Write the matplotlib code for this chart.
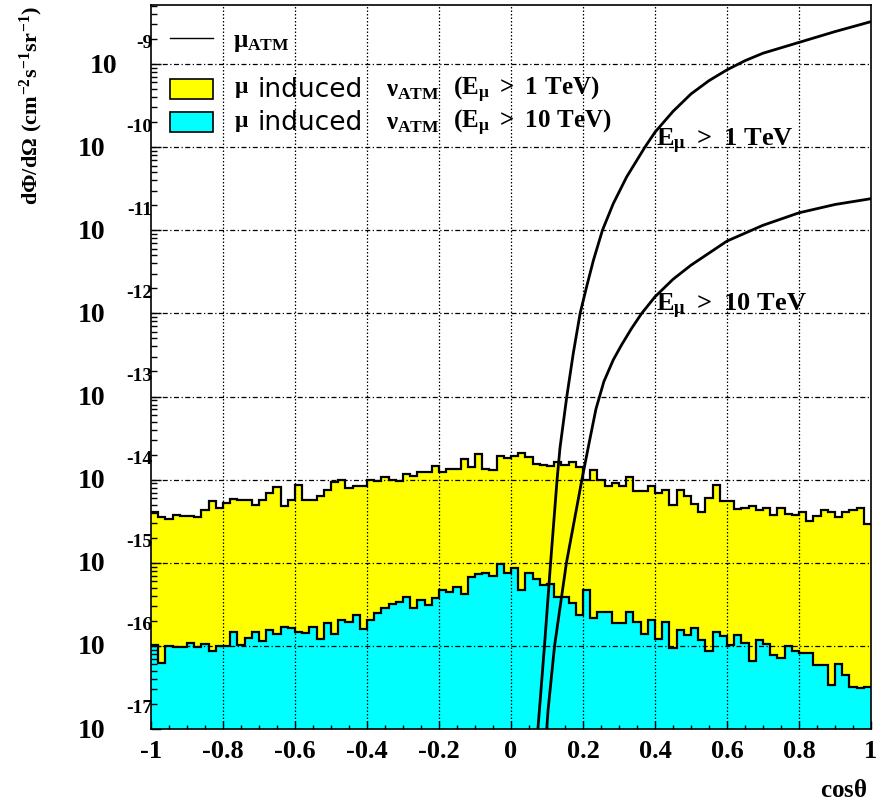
#!/usr/bin/env python3
"""Atmospheric muon flux vs neutrino-induced muons, per cos(theta)."""

import numpy as np
import matplotlib
matplotlib.use("Agg")
import matplotlib.pyplot as plt
from matplotlib.patches import Rectangle

plt.rcParams['font.family'] = ['Liberation Serif', 'DejaVu Serif']
plt.rcParams['font.weight'] = 'bold'
plt.rcParams['mathtext.fontset'] = 'custom'
plt.rcParams['mathtext.rm'] = 'Liberation Serif:bold'
plt.rcParams['mathtext.it'] = 'Liberation Serif:bold'
plt.rcParams['mathtext.bf'] = 'Liberation Serif:bold'

# 100 bins in cos(theta) from -1 to 1, values are log10 of the flux
n_bins = 100
yellow_log = [
    -14.39, -14.45, -14.47, -14.42, -14.44, -14.44, -14.45, -14.37, -14.26, -14.34,
    -14.28, -14.23, -14.25, -14.25, -14.31, -14.24, -14.16, -14.09, -14.32, -14.24,
    -14.07, -14.24, -14.24, -14.20, -14.12, -14.03, -14.01, -14.10, -14.08, -14.08,
    -14.01, -14.02, -13.97, -14.00, -14.02, -13.93, -13.96, -13.91, -13.91, -13.83,
    -13.91, -13.87, -13.87, -13.75, -13.85, -13.69, -13.87, -13.89, -13.71, -13.74,
    -13.71, -13.68, -13.73, -13.81, -13.82, -13.84, -13.79, -13.82, -13.79, -13.85,
    -14.00, -13.89, -14.01, -14.08, -14.04, -14.08, -13.97, -14.14, -14.14, -14.08,
    -14.16, -14.13, -14.30, -14.13, -14.20, -14.29, -14.39, -14.22, -14.06, -14.26,
    -14.26, -14.35, -14.34, -14.32, -14.37, -14.34, -14.43, -14.34, -14.41, -14.43,
    -14.39, -14.50, -14.44, -14.37, -14.39, -14.45, -14.39, -14.37, -14.34, -14.53,
]
cyan_log = [
    -15.99, -16.20, -16.00, -16.01, -16.01, -15.96, -16.01, -15.98, -16.06, -16.00,
    -16.00, -15.83, -15.99, -15.91, -15.83, -15.94, -15.81, -15.86, -15.77, -15.79,
    -15.83, -15.84, -15.77, -15.92, -15.72, -15.86, -15.69, -15.71, -15.63, -15.80,
    -15.69, -15.61, -15.55, -15.50, -15.47, -15.41, -15.55, -15.45, -15.51, -15.43,
    -15.33, -15.35, -15.29, -15.37, -15.17, -15.13, -15.12, -15.16, -15.01, -15.12,
    -15.06, -15.33, -15.12, -15.19, -15.27, -15.25, -15.41, -15.41, -15.49, -15.63,
    -15.33, -15.67, -15.59, -15.59, -15.72, -15.72, -15.59, -15.71, -15.86, -15.69,
    -15.92, -15.71, -16.02, -15.81, -15.87, -15.79, -15.93, -16.06, -15.83, -15.88,
    -15.99, -15.87, -15.97, -16.18, -15.93, -15.98, -16.11, -16.14, -16.00, -16.06,
    -16.09, -16.09, -16.23, -16.23, -16.47, -16.22, -16.35, -16.49, -16.51, -16.50,
]

# atmospheric muon curves (cos theta, log10 flux)
mu1_cos = [0.071, 0.079, 0.093, 0.110, 0.128, 0.136, 0.155, 0.173, 0.192, 0.210,
           0.229, 0.254, 0.284, 0.321, 0.372, 0.400, 0.450, 0.500, 0.550, 0.600,
           0.650, 0.700, 0.800, 0.900, 1.000]
mu1_log = [-17.2, -16.77, -16.0, -15.0, -14.0, -13.62, -13.0, -12.48, -12.0, -11.68,
           -11.36, -11.0, -10.68, -10.36, -10.0, -9.82, -9.57, -9.36, -9.20, -9.07,
           -8.96, -8.87, -8.74, -8.61, -8.49]
mu10_cos = [0.096, 0.103, 0.121, 0.154, 0.197, 0.216, 0.236, 0.258, 0.284, 0.307,
            0.335, 0.363, 0.400, 0.450, 0.500, 0.600, 0.700, 0.800, 0.900, 1.000]
mu10_log = [-17.2, -16.77, -16.0, -15.0, -14.0, -13.58, -13.15, -12.82, -12.56, -12.38,
            -12.18, -12.0, -11.80, -11.59, -11.42, -11.13, -10.94, -10.79, -10.69, -10.62]

x_ticks = [-1, -0.8, -0.6, -0.4, -0.2, 0, 0.2, 0.4, 0.6, 0.8, 1]
x_tick_labels = ['-1', '-0.8', '-0.6', '-0.4', '-0.2', '0', '0.2', '0.4', '0.6', '0.8', '1']
decades = list(range(-17, -8))

W, H = 877, 805
fig = plt.figure(figsize=(W / 100, H / 100), dpi=100)
ax = fig.add_axes([151 / W, 1 - 729 / H, 720 / W, 724 / H])


def fx(px):
    return px / W


def fy(py):
    return 1 - py / H


edges = np.linspace(-1, 1, n_bins + 1)
yellow = 10 ** np.array(yellow_log)
cyan = 10 ** np.array(cyan_log)
base = 1e-18

ax.stairs(yellow, edges, baseline=base, fill=True, color='#ffff00', zorder=1)
ax.stairs(cyan, edges, baseline=base, fill=True, color='#00ffff', zorder=1.1)
ax.stairs(yellow, edges, baseline=None, color='black', lw=1.6, zorder=1.2)
ax.stairs(cyan, edges, baseline=None, color='black', lw=1.6, zorder=1.2)

ax.plot(mu1_cos, 10 ** np.array(mu1_log), color='black', lw=2.0, zorder=3)
ax.plot(mu10_cos, 10 ** np.array(mu10_log), color='black', lw=2.0, zorder=3)

ax.set_yscale('log')
ax.set_xlim(-1, 1)
ax.set_ylim(1e-17, 10 ** -8.29)

# grid drawn over the fills, ROOT style
for v in x_ticks[1:-1]:
    ax.axvline(v, color='black', lw=0.9, ls=(0, (1.2, 1.6)), zorder=2)
for d in decades[1:]:
    ax.axhline(10.0 ** d, color='black', lw=0.9, ls=(0, (4, 2, 1, 2)), zorder=2)

ax.set_xticks(x_ticks)
ax.set_xticklabels(x_tick_labels, fontsize=19, fontweight='bold')
ax.xaxis.set_minor_locator(matplotlib.ticker.MultipleLocator(0.05))
ax.tick_params(axis='x', which='major', direction='in', length=6, width=1, pad=8,
               top=False)
ax.tick_params(axis='x', which='minor', direction='in', length=3, width=1, top=False)
ax.yaxis.set_major_locator(matplotlib.ticker.LogLocator(base=10, numticks=20))
ax.yaxis.set_minor_locator(matplotlib.ticker.LogLocator(base=10, subs=np.arange(2, 10),
                                                        numticks=20))
ax.yaxis.set_minor_formatter(matplotlib.ticker.NullFormatter())
ax.set_yticklabels([])
ax.tick_params(axis='y', which='major', direction='in', length=7, width=1, right=False)
ax.tick_params(axis='y', which='minor', direction='in', length=4, width=1, right=False)
for s in ax.spines.values():
    s.set_linewidth(1.2)

# ROOT-like "10^-n" labels
for d in decades:
    y = 10.0 ** d
    ten_right = -34 if d == -9 else -46
    ax.annotate('10', xy=(0, y), xycoords=('axes fraction', 'data'),
                xytext=(ten_right * 0.72, -1.5), textcoords='offset points',
                ha='right', va='center', fontsize=20, fontweight='bold')
    ax.annotate(str(d), xy=(0, y), xycoords=('axes fraction', 'data'),
                xytext=(1, 14.5), textcoords='offset points',
                ha='right', va='center', fontsize=14, fontweight='bold')

fig.text(fx(31), fy(6), r'$d\Phi/d\Omega\ (cm^{-2}s^{-1}sr^{-1})$', rotation=90,
         ha='center', va='top', fontsize=16)
fig.text(fx(867), fy(790), r'cos$\theta$', ha='right', va='center', fontsize=18)

# legend
fig.lines.append(plt.Line2D([fx(170), fx(213)], [fy(38), fy(38)], color='black',
                            lw=1.0, transform=fig.transFigure))
fig.text(fx(233), fy(43), r'$\mu_{ATM}$', ha='left', va='center', fontsize=18)
for yc, color, cut in [(89, '#ffff00', '1'), (122, '#00ffff', '10')]:
    fig.patches.append(Rectangle((fx(170), fy(yc + 10)), fx(43), 20 / H, facecolor=color,
                                 edgecolor='black', lw=1.2, transform=fig.transFigure))
    fig.text(fx(234), fy(yc + 1), r'$\mu$', ha='left', va='center', fontsize=17)
    fig.text(fx(257), fy(yc + 1), 'induced', ha='left', va='center', fontsize=19,
             family='DejaVu Sans', fontweight='normal')
    fig.text(fx(386), fy(yc + 2), r'$\nu_{ATM}$', ha='left', va='center', fontsize=18)
    fig.text(fx(453), fy(yc + 1), r'$(E_{\mu}\ >\ ' + cut + r'\ TeV)$',
             ha='left', va='center', fontsize=18)

ax.text(0.402, 10 ** -9.93, r'$E_{\mu}\ >\ 1\ TeV$', ha='left', va='center',
        fontsize=19, zorder=4)
ax.text(0.402, 10 ** -11.92, r'$E_{\mu}\ >\ 10\ TeV$', ha='left', va='center',
        fontsize=19, zorder=4)

fig.savefig('out.png', dpi=100)
